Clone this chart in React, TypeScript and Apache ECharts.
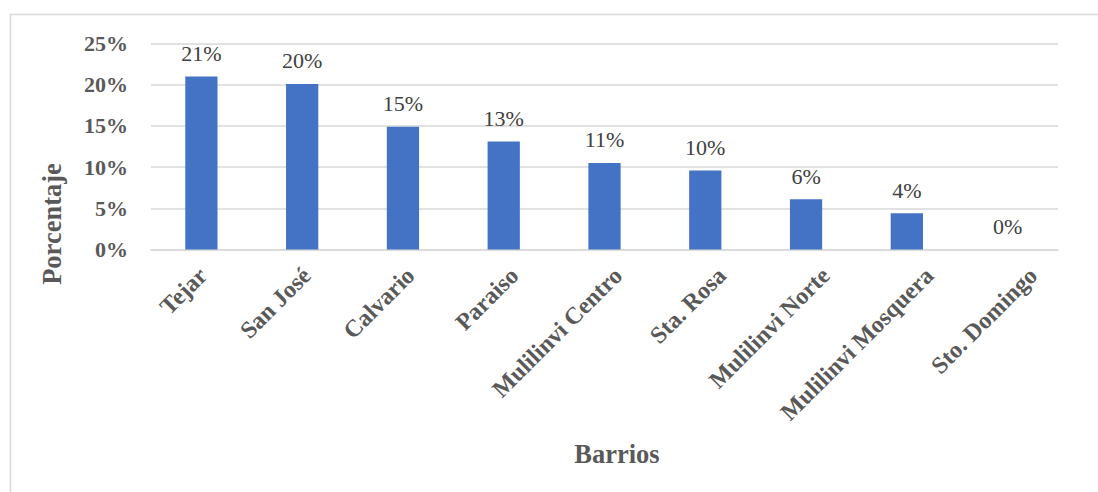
import React, { useEffect, useRef } from "react";
import * as echarts from "echarts";

// Neighbourhoods and the share (%) of responses from each one
const barrios = [
  "Tejar",
  "San José",
  "Calvario",
  "Paraiso",
  "Mulilinvi Centro",
  "Sta. Rosa",
  "Mulilinvi Norte",
  "Mulilinvi Mosquera",
  "Sto. Domingo",
];
const porcentajes = [21.0, 20.1, 14.9, 13.1, 10.5, 9.6, 6.1, 4.4, 0];

const yMin = 0;
const yMax = 25;
const yStep = 5;

const FONT = "Liberation Serif, Times New Roman, serif";

export default function App() {
  const ref = useRef<HTMLDivElement>(null);

  useEffect(() => {
    if (!ref.current) return;
    const chart = echarts.init(ref.current, null, { renderer: "svg" });
    chart.setOption({
      animation: false,
      backgroundColor: "#ffffff",
      textStyle: { fontFamily: FONT },
      grid: [
        // plot area holding the bars
        { left: 151, right: 40, top: 43.5, bottom: 242.5, containLabel: false },
        // slightly wider band that carries the rotated category names
        { left: 151, right: 13, top: 43.5, bottom: 242.5, containLabel: false },
      ],
      xAxis: [
        {
          type: "category",
          gridIndex: 0,
          data: barrios,
          axisLine: { show: true, lineStyle: { color: "#d9d9d9", width: 1.5 } },
          axisTick: { show: false },
          axisLabel: { show: false },
        },
        {
          type: "category",
          gridIndex: 1,
          data: barrios,
          axisLine: { show: false },
          axisTick: { show: false },
          axisLabel: {
            rotate: 45,
            interval: 0,
            margin: 22,
            color: "#595959",
            fontFamily: FONT,
            fontWeight: "bold",
            fontSize: 24,
          },
        },
      ],
      yAxis: [
        {
          type: "value",
          gridIndex: 0,
          min: yMin,
          max: yMax,
          interval: yStep,
          axisLine: { show: false },
          axisTick: { show: false },
          splitLine: { lineStyle: { color: "#d9d9d9", width: 1.5 } },
          axisLabel: {
            formatter: "{value}%",
            margin: 23,
            color: "#595959",
            fontFamily: FONT,
            fontWeight: "bold",
            fontSize: 22,
          },
        },
        {
          type: "value",
          gridIndex: 1,
          min: yMin,
          max: yMax,
          interval: yStep,
          show: false,
        },
      ],
      series: [
        {
          type: "bar",
          xAxisIndex: 0,
          yAxisIndex: 0,
          data: porcentajes,
          barWidth: "32%",
          itemStyle: { color: "#4472c4" },
          label: {
            show: true,
            position: "top",
            distance: 12,
            formatter: (p: any) => `{v|${Math.round(p.value)}%}`,
            color: "#404040",
            fontFamily: FONT,
            fontSize: 22,
            rich: {
              v: {
                fontFamily: FONT,
                fontWeight: "normal",
                fontSize: 22,
                color: "#404040",
              },
            },
          },
        },
      ],
      graphic: [
        {
          type: "rect",
          shape: { x: 10.5, y: 14.5, width: 1200, height: 600 },
          style: { fill: "none", stroke: "#d9d9d9", lineWidth: 1.5 },
          silent: true,
        },
        {
          type: "text",
          x: 52,
          y: 224,
          rotation: Math.PI / 2,
          style: {
            text: "Porcentaje",
            align: "center",
            verticalAlign: "middle",
            fill: "#595959",
            font: `bold 26.5px ${FONT}`,
          },
        },
        {
          type: "text",
          x: 617,
          y: 454,
          style: {
            text: "Barrios",
            align: "center",
            verticalAlign: "middle",
            fill: "#595959",
            font: `bold 26.5px ${FONT}`,
          },
        },
      ],
    });
    return () => chart.dispose();
  }, []);

  return (
    <div
      ref={ref}
      style={{ position: "absolute", left: 0, top: 0, width: 1098, height: 492 }}
    />
  );
}
